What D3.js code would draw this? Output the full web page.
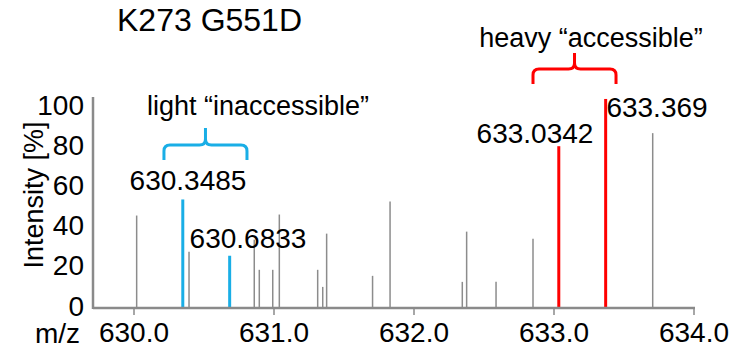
<!DOCTYPE html>
<html>
<head>
<meta charset="utf-8">
<script src="https://cdn.jsdelivr.net/npm/d3@7"></script>
<style>
  body { margin: 0; background: #fff; }
  text { font-family: "Liberation Sans", Arial, sans-serif; fill: #000; }
</style>
</head>
<body>
<svg id="chart" width="742" height="353"></svg>
<script>
// peaks (m/z, relative intensity %)
var grayMz  = [630.019, 630.393, 630.859, 630.895, 630.991, 631.038, 631.312, 631.348,
               631.376, 631.704, 631.829, 632.345, 632.376, 632.586, 632.850, 633.705];
var grayInt = [46, 28, 34, 19, 19, 46.5, 19, 10.5, 37, 16, 53, 13, 38, 13, 34.5, 87];
var lightMz  = [630.3485, 630.6833];
var lightInt = [54, 26];
var heavyMz  = [633.0342, 633.369];
var heavyInt = [80.5, 104];
var xTicks = [630.0, 631.0, 632.0, 633.0, 634.0];
var yTicks = [0, 20, 40, 60, 80, 100];

var svg = d3.select("#chart");
var axisColor = "#8a8a8a";
var blue = "#19aee6", red = "#ff0000";

// scales: 630 -> 134px, 634 -> 694px ; 0 -> 308px, 100 -> 107px
var x = d3.scaleLinear().domain([630, 634]).range([134, 694]);
var y = d3.scaleLinear().domain([0, 100]).range([308, 107]);
var xLeft = 93, yTop = 97;

// title
svg.append("text")
    .attr("x", 117).attr("y", 31)
    .style("font-size", "32px")
    .text("K273 G551D");

// gray peaks
svg.append("g").selectAll("line")
    .data(grayMz)
    .join("line")
    .attr("x1", function(d) { return x(d); })
    .attr("x2", function(d) { return x(d); })
    .attr("y1", y(0))
    .attr("y2", function(d, i) { return y(grayInt[i]); })
    .attr("stroke", "#8c8c8c")
    .attr("stroke-width", 1.5);

// colored peaks
function drawPeaks(mz, inten, color) {
    svg.append("g").selectAll("line")
        .data(mz)
        .join("line")
        .attr("x1", function(d) { return x(d); })
        .attr("x2", function(d) { return x(d); })
        .attr("y1", y(0))
        .attr("y2", function(d, i) { return y(inten[i]); })
        .attr("stroke", color)
        .attr("stroke-width", 3);
}
drawPeaks(lightMz, lightInt, blue);
drawPeaks(heavyMz, heavyInt, red);

// axes
svg.append("line")
    .attr("x1", xLeft).attr("x2", xLeft)
    .attr("y1", yTop).attr("y2", y(0) + 1)
    .attr("stroke", axisColor).attr("stroke-width", 2.5);
svg.append("line")
    .attr("x1", xLeft).attr("x2", x(634) + 1)
    .attr("y1", y(0)).attr("y2", y(0))
    .attr("stroke", axisColor).attr("stroke-width", 2.5);

var xg = svg.append("g").selectAll("g")
    .data(xTicks)
    .join("g")
    .attr("transform", function(d) { return "translate(" + x(d) + "," + y(0) + ")"; });
xg.append("line")
    .attr("y1", 0).attr("y2", 7)
    .attr("stroke", axisColor).attr("stroke-width", 1.5);
xg.append("text")
    .attr("y", 34)
    .attr("text-anchor", "middle")
    .style("font-size", "28px")
    .text(function(d) { return d3.format(".1f")(d); });

svg.append("g").selectAll("text")
    .data(yTicks)
    .join("text")
    .attr("x", 84)
    .attr("y", function(d) { return y(d); })
    .attr("dy", "0.27em")
    .attr("text-anchor", "end")
    .style("font-size", "28px")
    .text(function(d) { return d; });

svg.append("text")
    .attr("x", 80).attr("y", 343)
    .attr("text-anchor", "end")
    .style("font-size", "28px")
    .text("m/z");

svg.append("text")
    .attr("transform", "translate(43,195) rotate(-90)")
    .attr("text-anchor", "middle")
    .style("font-size", "27px")
    .text("Intensity [%]");

// peak labels
var peakLabels = [
    {mz: lightMz[0], txt: "630.3485", x: 188, y: 190},
    {mz: lightMz[1], txt: "630.6833", x: 248, y: 248},
    {mz: heavyMz[0], txt: "633.0342", x: 535, y: 143},
    {mz: heavyMz[1], txt: "633.369", x: 657, y: 117}
];
svg.append("g").selectAll("text")
    .data(peakLabels)
    .join("text")
    .attr("x", function(d) { return d.x; })
    .attr("y", function(d) { return d.y; })
    .attr("text-anchor", "middle")
    .style("font-size", "28px")
    .text(function(d) { return d.txt; });

// curly brackets
function brace(x0, x1, top, mid, bottom, color) {
    var cx = (x0 + x1) / 2, r = 6;
    var p = d3.path();
    p.moveTo(x0, bottom);
    p.lineTo(x0, mid + r);
    p.quadraticCurveTo(x0, mid, x0 + r, mid);
    p.lineTo(cx - r, mid);
    p.quadraticCurveTo(cx, mid, cx, mid - r);
    p.lineTo(cx, top);
    p.moveTo(x1, bottom);
    p.lineTo(x1, mid + r);
    p.quadraticCurveTo(x1, mid, x1 - r, mid);
    p.lineTo(cx + r, mid);
    p.quadraticCurveTo(cx, mid, cx, mid - r);
    svg.append("path")
        .attr("d", p.toString())
        .attr("fill", "none")
        .attr("stroke", color)
        .attr("stroke-width", 3);
}
brace(x(630.214), x(630.807), 128, 145, 160, blue);
brace(x(632.85), x(633.443), 53, 69, 84, red);

svg.append("text")
    .attr("x", 258).attr("y", 115)
    .attr("text-anchor", "middle")
    .style("font-size", "27px")
    .text("light \u201cinaccessible\u201d");
svg.append("text")
    .attr("x", 591).attr("y", 47)
    .attr("text-anchor", "middle")
    .style("font-size", "27px")
    .text("heavy \u201caccessible\u201d");
</script>
</body>
</html>
